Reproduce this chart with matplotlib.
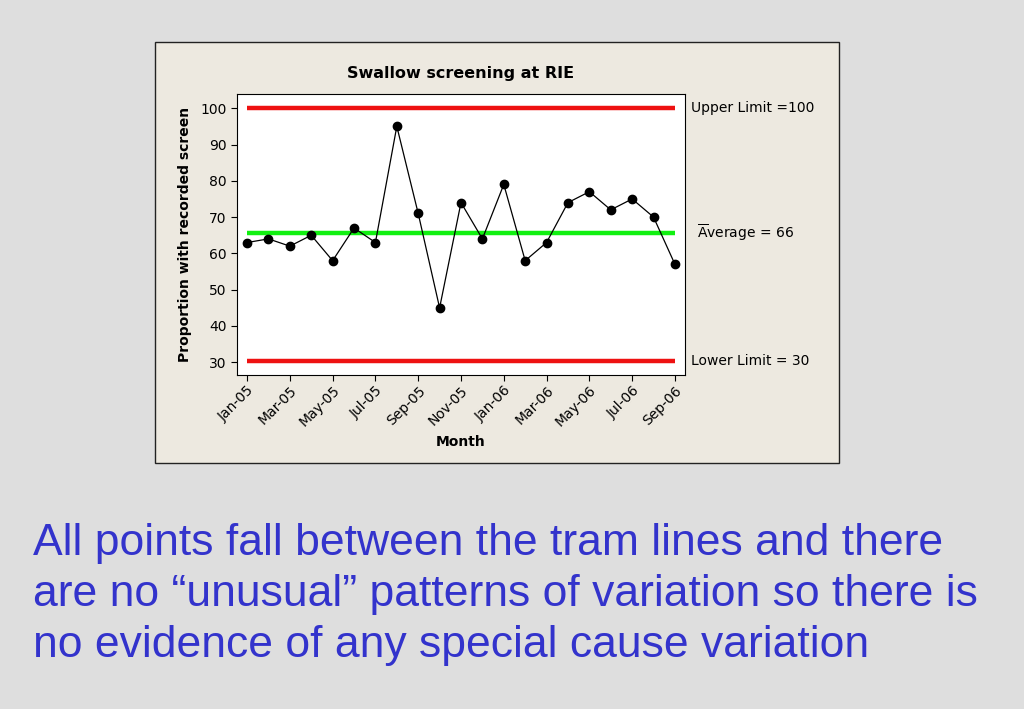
import matplotlib
matplotlib.use("Agg")
import matplotlib.pyplot as plt
from matplotlib.patches import Rectangle

# monthly data, Jan-05 .. Sep-06
months = ['Jan-05', 'Feb-05', 'Mar-05', 'Apr-05', 'May-05', 'Jun-05', 'Jul-05',
          'Aug-05', 'Sep-05', 'Oct-05', 'Nov-05', 'Dec-05', 'Jan-06', 'Feb-06',
          'Mar-06', 'Apr-06', 'May-06', 'Jun-06', 'Jul-06', 'Aug-06', 'Sep-06']
proportion = [63, 64, 62, 65, 58, 67, 63, 95, 71, 45, 74, 64, 79, 58, 63, 74, 77, 72, 75, 70, 57]
upper_limit = 100
lower_limit = 30.3
average = 65.7
yticks = [30, 40, 50, 60, 70, 80, 90, 100]

caption = ['All points fall between the tram lines and there',
           'are no \u201cunusual\u201d patterns of variation so there is',
           'no evidence of any special cause variation']

W, H = 1024, 709
fig = plt.figure(figsize=(W / 100, H / 100), dpi=100)
fig.patch.set_facecolor('#dedede')

# chart panel
fig.patches.append(Rectangle((155 / W, 1 - 463 / H), 684 / W, 421 / H,
                             transform=fig.transFigure, facecolor='#ede9e0',
                             edgecolor='#222222', linewidth=1.0, zorder=-10))

ax = fig.add_axes([237 / W, 1 - 375 / H, 448 / W, 281.3 / H])
ax.set_facecolor('white')

x = list(range(len(months)))
ax.hlines([upper_limit, lower_limit], 0, len(months) - 1, colors='#ee1111', linewidth=3.2, zorder=2)
ax.hlines(average, 0, len(months) - 1, colors='#11f011', linewidth=3.2, zorder=2)
ax.plot(x, proportion, color='black', linewidth=0.9, marker='o', markersize=6, zorder=3)

ax.set_xlim(-0.47, len(months) - 1 + 0.47)
ax.set_ylim(26.5, 104)
ax.set_yticks(yticks)
ax.set_xticks(x[::2])
ax.set_xticklabels(months[::2], rotation=45, ha='right', rotation_mode='anchor')
ax.tick_params(axis='both', labelsize=10, length=4, width=0.8, direction='out')
ax.tick_params(axis='x', pad=2)
for s in ax.spines.values():
    s.set_linewidth(0.8)

ax.set_title('Swallow screening at RIE', fontsize=11.5, fontweight='bold', pad=11)
ax.set_xlabel('Month', fontsize=10, fontweight='bold', labelpad=4)
ax.set_ylabel('Proportion with recorded screen', fontsize=10, fontweight='bold', labelpad=6)

# limit labels right of the plot
tf = ax.get_yaxis_transform()
ax.text(1.013, upper_limit, 'Upper Limit =100', transform=tf, fontsize=10, va='center', ha='left')
ax.text(1.027, average, r'$\overline{\mathrm{A}}$verage = 66', transform=tf, fontsize=10, va='center', ha='left')
ax.text(1.013, lower_limit, 'Lower Limit = 30', transform=tf, fontsize=10, va='center', ha='left')

baselines = [555, 606, 657]
for line, yb in zip(caption, baselines):
    fig.text(33 / W, 1 - yb / H, line, fontsize=32, color='#3333cc',
             family='Liberation Sans', va='baseline', ha='left')

plt.savefig('out.png', dpi=100, facecolor=fig.get_facecolor())
